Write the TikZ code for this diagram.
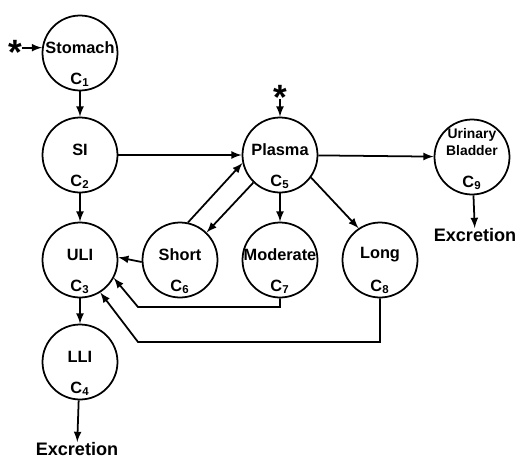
\documentclass[tikz,border=0pt]{standalone}
\usepackage{fontspec}
\setmainfont{Liberation Sans}
\tikzset{
  >=latex,
}
\tikzstyle{compartment}=[draw,circle,line width=1pt,minimum size=1.5cm,inner sep=0pt]
\tikzstyle{flow}=[line width=1pt,->]
\tikzstyle{cname}=[font=\bfseries\fontsize{9.3}{11}\selectfont,inner sep=0pt]
\tikzstyle{csub}=[font=\bfseries\fontsize{9.3}{11}\selectfont,inner sep=0pt]
\tikzstyle{excr}=[font=\bfseries\fontsize{10.3}{12}\selectfont,inner sep=0pt]
\tikzstyle{dose}=[font=\bfseries\fontsize{20}{20}\selectfont,inner sep=0pt,anchor=base]

\begin{document}
\begin{tikzpicture}[x=0.02cm,y=-0.02cm]
    \useasboundingbox (0,0) rectangle (518,457);
    % compartments
    \foreach \n/\x/\y/\t/\i in {stomach/80/53/Stomach/1,si/80/155/SI/2,uli/80/260/ULI/3,
      lli/80/362/LLI/4,plasma/280/155/Plasma/5,short/180/260/Short/6,
      moderate/280/260/Moderate/7,long/380/260/Long/8}{
      \node[compartment] (\n) at (\x,\y) {};
      \node[cname] (\n-t) at (\x,\y-5) {\t};
      \node[csub] (\n-c) at (\x,\y+27) {C\textsubscript{\i}};
    }
    \node[compartment] (bladder) at (472,157) {};
    \node[cname,align=center,font=\bfseries\fontsize{7.9}{9.5}\selectfont] (bladder-t) at (472,142) {Urinary\\Bladder};
    \node[csub] (bladder-c) at (472,183) {C\textsubscript{9}};
    \node[excr] (exc1) at (77,449) {Excretion};
    \node[excr] (exc2) at (475,235) {Excretion};
    % doses
    \node[dose] (dose1) at (15,64) {*};
    \node[dose] (dose2) at (280,109) {*};
    \coordinate (d2) at (280,99);
    % transfers
    \draw[flow] (dose1.east |- stomach.172) -- (stomach.172);
    \draw[flow] (d2) -- (plasma.north);
    \draw[flow] (stomach) -- (si);
    \draw[flow] (si) -- (uli);
    \draw[flow] (uli) -- (lli);
    \draw[flow] (lli) -- (exc1);
    \draw[flow] (si) -- (plasma);
    \draw[flow] (plasma) -- (bladder);
    \draw[flow] (bladder) -- (exc2);
    \draw[flow] (plasma) -- (moderate);
    \draw[flow] (plasma.-36) -- (long.124);
    \draw[flow] (short.78) -- (plasma.192);
    \draw[flow] (plasma.226) -- (short.46);
    \draw[flow] (short.183) -- (uli.4);
    \coordinate (m1) at (138,307);
    \coordinate (l1) at (138,342);
    \draw[flow] (moderate.south) |- (m1) -- (uli.-28);
    \draw[flow] (long.south) |- (l1) -- (uli.-58);
\end{tikzpicture}
\end{document}
